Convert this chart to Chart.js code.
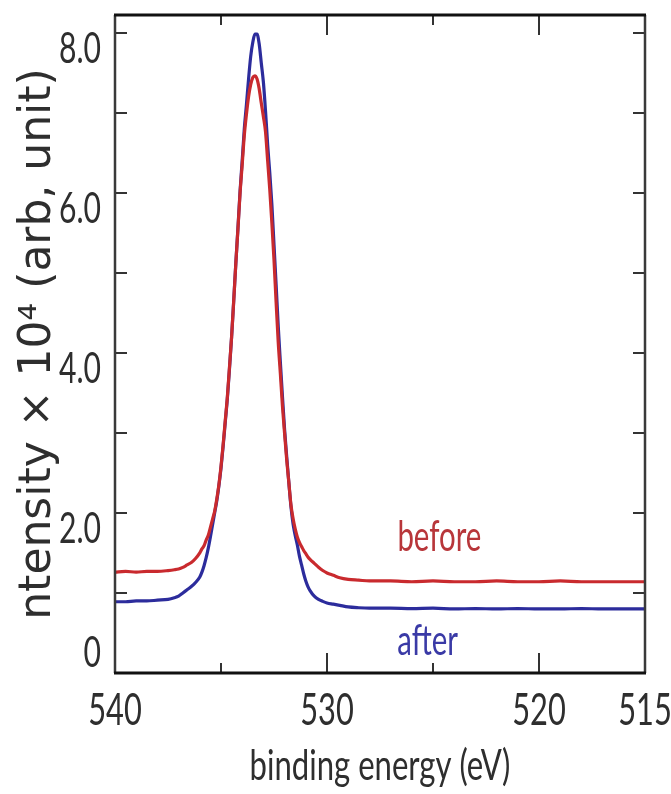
<!DOCTYPE html>
<html>
<head>
<meta charset="utf-8">
<script src="https://cdn.jsdelivr.net/npm/chart.js@4.4.1/dist/chart.umd.min.js"></script>
<style>
  html, body { margin: 0; padding: 0; background: #fff; }
  canvas { display: block; }
</style>
</head>
<body>
<canvas id="xps" width="671" height="794"></canvas>
<script>
// binding energy (eV)
const energy = [
  540, 539.5, 539, 538.5, 538, 537.5, 537.2, 537.0, 536.8, 536.6, 536.4, 536.2,
  536.0, 535.9, 535.8, 535.7, 535.6, 535.5, 535.4, 535.3, 535.2, 535.1, 535.0,
  534.9, 534.8, 534.7, 534.6, 534.5, 534.4, 534.3, 534.2, 534.1, 534.0, 533.9,
  533.8, 533.7, 533.6, 533.5, 533.4, 533.3, 533.2, 533.1, 533.0, 532.9, 532.8,
  532.7, 532.6, 532.5, 532.4, 532.3, 532.2, 532.1, 532.0, 531.9, 531.8, 531.7,
  531.6, 531.5, 531.4, 531.3, 531.2, 531.1, 531.0, 530.9, 530.8, 530.6, 530.4,
  530.2, 530.0, 529.7, 529.4, 529.0, 528.5, 528, 527, 526, 525, 524, 523, 522,
  521, 520, 519, 518, 517, 516, 515
];

// intensity x 10^4 before treatment (red)
const before = [
  1.26, 1.27, 1.26, 1.27, 1.27, 1.28, 1.29, 1.30, 1.32, 1.35, 1.38, 1.43,
  1.50, 1.55, 1.59, 1.66, 1.72, 1.82, 1.92, 2.02, 2.17, 2.35, 2.58,
  2.85, 3.15, 3.45, 3.82, 4.20, 4.65, 5.12, 5.55, 6.00, 6.35, 6.72,
  6.98, 7.20, 7.35, 7.44, 7.46, 7.42, 7.30, 7.12, 6.95, 6.76, 6.40,
  6.04, 5.62, 5.16, 4.63, 4.13, 3.74, 3.33, 2.99, 2.66, 2.38, 2.10,
  1.93, 1.80, 1.70, 1.63, 1.58, 1.53, 1.49, 1.45, 1.42, 1.37, 1.32,
  1.28, 1.25, 1.22, 1.19, 1.17, 1.16, 1.15, 1.15, 1.14, 1.15, 1.14, 1.14, 1.15,
  1.14, 1.14, 1.15, 1.14, 1.14, 1.14, 1.14
];

// intensity x 10^4 after treatment (blue)
const after = [
  0.89, 0.89, 0.90, 0.90, 0.91, 0.92, 0.94, 0.96, 1.00, 1.04, 1.08, 1.13,
  1.20, 1.26, 1.34, 1.44, 1.56, 1.70, 1.85, 2.00, 2.15, 2.34, 2.56,
  2.83, 3.13, 3.43, 3.80, 4.20, 4.65, 5.12, 5.56, 6.02, 6.40, 6.80,
  7.10, 7.42, 7.70, 7.88, 7.98, 7.98, 7.86, 7.62, 7.38, 7.02, 6.60,
  6.25, 5.85, 5.35, 4.85, 4.33, 3.88, 3.45, 3.04, 2.70, 2.38, 2.08,
  1.86, 1.72, 1.60, 1.46, 1.35, 1.24, 1.15, 1.08, 1.03, 0.96, 0.92,
  0.895, 0.875, 0.86, 0.845, 0.825, 0.815, 0.81, 0.81, 0.805, 0.81, 0.80, 0.805, 0.80,
  0.805, 0.80, 0.80, 0.805, 0.80, 0.80, 0.80
];

const xTicks = [540, 535, 530, 525, 520, 515];
const xTickLabels = { 540: '540', 530: '530', 520: '520', 515: '515' };
const yTicks = [0, 1, 2, 3, 4, 5, 6, 7, 8];
const yTickLabels = { 0: '0', 2: '2.0', 4: '4.0', 6: '6.0', 8: '8.0' };

const RED = '#c92a2e';
const BLUE = '#2c2c9c';
const INK = '#2e2e2e';
const SQUASH = 0.7;   // the figure's text is drawn narrow

// curve names written next to the baselines (data coords)
const curveNames = [
  { text: 'before', e: 524.7, v: 1.69, color: '#b8363a' },
  { text: 'after', e: 525.25, v: 0.39, color: '#3a3aa6' }
];

function toPoints(vals) {
  return energy.map((e, i) => ({ x: e, y: vals[i] }));
}

function narrowText(ctx, text, x, y, size, color, align, sx) {
  ctx.save();
  ctx.translate(x, y);
  ctx.scale(sx || SQUASH, 1);
  ctx.font = size + 'px Lato, sans-serif';
  ctx.fillStyle = color;
  ctx.textAlign = align;
  ctx.fillText(text, 0, 0);
  ctx.restore();
}

// box round the plot, inward ticks, narrow tick labels and curve names
const framePlugin = {
  id: 'frame',
  afterDraw(chart) {
    const { ctx, chartArea: a } = chart;
    const x = chart.scales.x, y = chart.scales.y;
    ctx.save();
    ctx.lineCap = 'butt';
    ctx.strokeStyle = '#333';
    ctx.lineWidth = 2;
    const seg = (x1, y1, x2, y2) => {
      ctx.beginPath(); ctx.moveTo(x1, y1); ctx.lineTo(x2, y2); ctx.stroke();
    };
    x.ticks.forEach(t => {
      if (t.value === x.min || t.value === x.max) return;
      const px = Math.round(x.getPixelForValue(t.value));
      const len = t.value % 10 === 0 ? 20 : 10;
      seg(px, a.bottom, px, a.bottom - len);
      seg(px, a.top, px, a.top + len);
    });
    y.ticks.forEach(t => {
      if (t.value === 0) return;
      const py = Math.round(y.getPixelForValue(t.value));
      seg(a.left, py, a.left + 12, py);
      seg(a.right, py, a.right - 12, py);
    });

    ctx.strokeStyle = '#3a3a3a';
    ctx.lineWidth = 2.5;
    seg(a.left, a.top, a.left, a.bottom);
    seg(a.right, a.top, a.right, a.bottom);
    ctx.strokeStyle = '#111';
    ctx.lineWidth = 3;
    seg(a.left - 1, a.top, a.right + 1, a.top);
    seg(a.left - 1, a.bottom, a.right + 1, a.bottom);
    ctx.restore();

    ctx.save();
    ctx.textBaseline = 'alphabetic';
    x.ticks.forEach(t => {
      const lbl = xTickLabels[t.value];
      if (lbl) narrowText(ctx, lbl, x.getPixelForValue(t.value), a.bottom + 52, 44, INK, 'center');
    });
    y.ticks.forEach(t => {
      const lbl = yTickLabels[t.value];
      if (!lbl) return;
      const py = y.getPixelForValue(t.value);
      // the 0 sits just above the corner, the others hang below their tick
      narrowText(ctx, lbl, a.left - 14, t.value === 0 ? py - 6 : py + 30, 43, INK, 'right');
    });
    narrowText(ctx, 'binding energy (eV)', (a.left + a.right) / 2, 780, 42, INK, 'center', 0.74);
    ctx.textBaseline = 'middle';
    curveNames.forEach(n => {
      narrowText(ctx, n.text, x.getPixelForValue(n.e), y.getPixelForValue(n.v), 42, n.color, 'center');
    });
    ctx.restore();
  }
};

new Chart(document.getElementById('xps'), {
  type: 'line',
  data: {
    datasets: [
      { label: 'before', data: toPoints(before), borderColor: RED, borderWidth: 3.2 },
      { label: 'after', data: toPoints(after), borderColor: BLUE, borderWidth: 3.2 }
    ]
  },
  options: {
    responsive: false,
    animation: false,
    layout: { padding: { top: 15, right: 26, left: 0, bottom: 0 } },
    elements: {
      point: { radius: 0 },
      line: { cubicInterpolationMode: 'monotone', fill: false }
    },
    plugins: { legend: { display: false }, tooltip: { enabled: false } },
    scales: {
      x: {
        type: 'linear',
        reverse: true,
        min: 515,
        max: 540,
        border: { display: false },
        grid: { display: false, drawTicks: false },
        ticks: { display: false },
        afterBuildTicks: s => { s.ticks = xTicks.map(v => ({ value: v })); },
        afterFit: s => { s.height = 121; s.paddingLeft = 0; s.paddingRight = 0; }
      },
      y: {
        min: 0,
        max: 8.22,
        border: { display: false },
        grid: { display: false, drawTicks: false },
        ticks: { display: false },
        afterBuildTicks: s => { s.ticks = yTicks.map(v => ({ value: v })); },
        afterFit: s => { s.width = 115; s.paddingTop = 0; s.paddingBottom = 0; },
        title: {
          display: true,
          text: 'ntensity \u00d7 10\u2074 (arb, unit)',
          color: INK,
          font: { family: 'DejaVu Sans', size: 44 },
          padding: { top: 12, bottom: 0 }
        }
      }
    }
  },
  plugins: [framePlugin]
});
</script>
</body>
</html>
